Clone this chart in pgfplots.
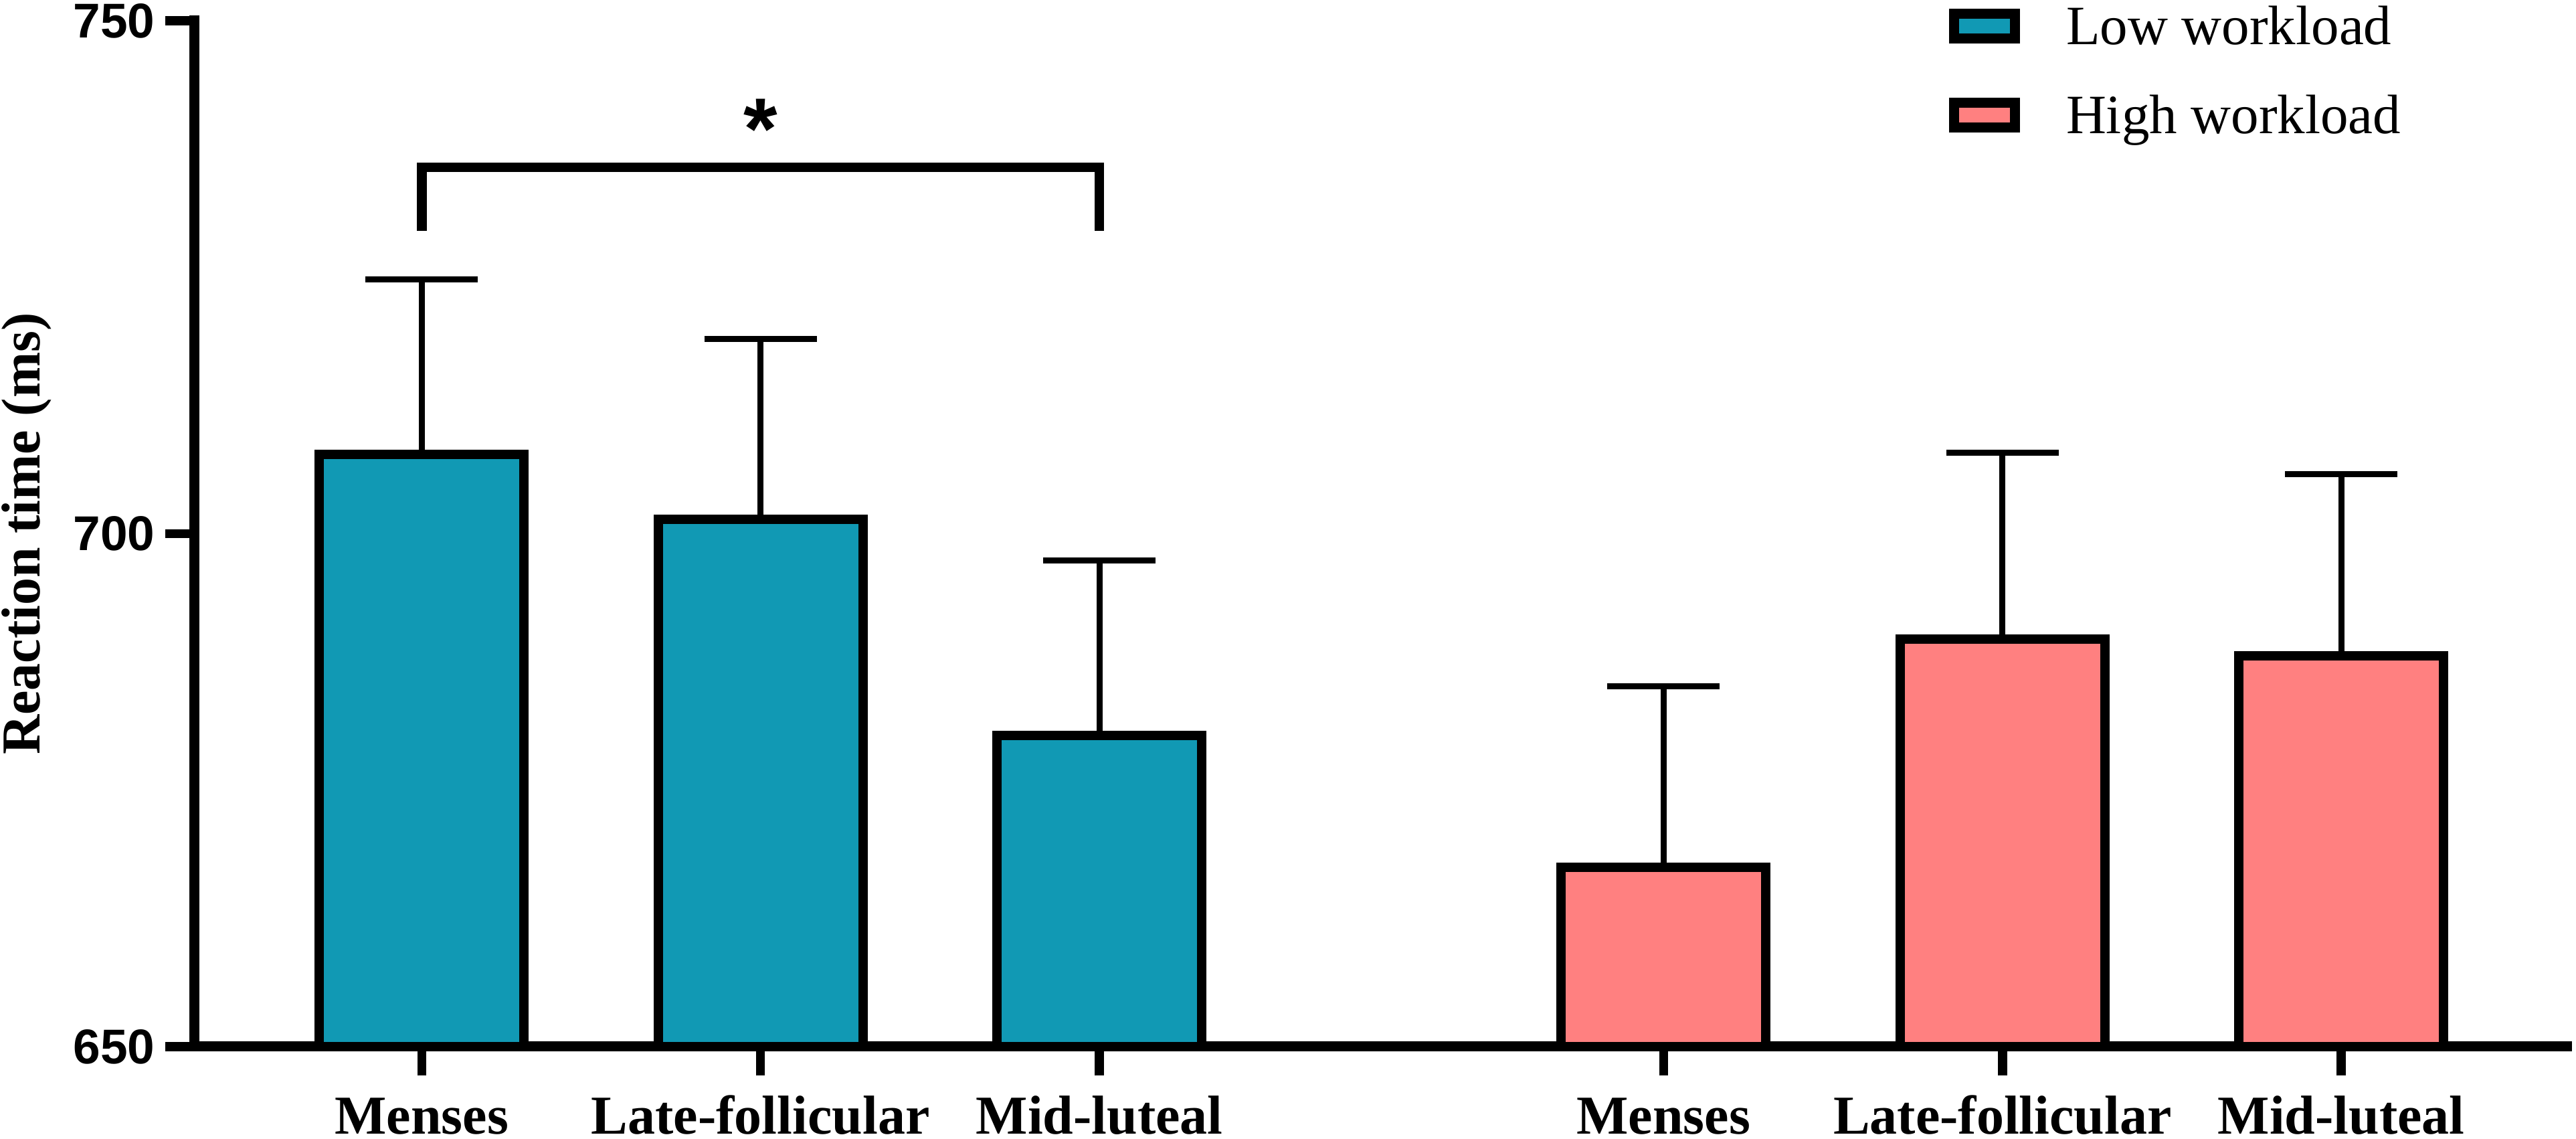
\documentclass[border=0pt]{standalone}
\usepackage{fontspec}
\setmainfont{Liberation Serif}
\setsansfont{Liberation Sans}
\usepackage{pgfplots}
\pgfplotsset{compat=1.18}
\definecolor{lowc}{RGB}{17,153,180}
\definecolor{highc}{RGB}{255,128,128}
\begin{document}
\begin{tikzpicture}
\begin{axis}[
  at={(0,0)}, anchor=south west,
  scale only axis, width=354.5pt, height=153.3pt,
  xmin=-0.67, xmax=6.33, ymin=650, ymax=750,
  ybar,
  axis x line=bottom, axis y line=left,
  axis line style={-, line width=1.5pt, line cap=rect},
  every outer x axis line/.append style={-},
  every outer y axis line/.append style={-},
  tick align=outside, major tick length=4.35pt,
  major tick style={line width=1.35pt, black},
  xtick={0,1,2,3.665,4.665,5.665},
  xticklabels={Menses,Late-follicular,Mid-luteal,Menses,Late-follicular,Mid-luteal},
  xticklabel style={anchor=north, inner sep=0pt, text height=6pt, text depth=0pt,
    font=\fontsize{8.2}{9.8}\selectfont\bfseries},
  xticklabel shift=2.5pt,
  ytick={650,700,750},
  yticklabels={650,700,750},
  yticklabel style={anchor=east, inner sep=0pt, font=\fontsize{7.3}{8.8}\selectfont\sffamily\bfseries},
  yticklabel shift=1.4pt,
  minor tick num=0,
  ylabel={Reaction time (ms)},
  every axis y label/.style={at={(axis description cs:-0.0652,0.5)}, anchor=base, rotate=90,
    font=\fontsize{8.2}{9.8}\selectfont\bfseries},
  legend image code/.code={\draw[#1, line width=1.5pt] (0pt,0.95pt) rectangle (9.1pt,4.65pt);},
  legend style={draw=none, fill=none, inner sep=0pt, outer sep=0pt,
    row sep=5.3pt, column sep=6.95pt,
    at={(axis description cs:0.7395,1.01566)}, anchor=north west,
    cells={anchor=base west},
    nodes={inner sep=0pt, text height=6pt, text depth=2pt, font=\fontsize{8.3}{10}\selectfont}},
]
\addplot[fill=lowc, draw=black, line width=1.4pt, bar width=30.6pt, bar shift=0pt,
  error bars/.cd, y dir=plus, y explicit,
  error bar style={line width=0.9pt, black},
  error mark options={rotate=90, mark size=8.4pt, line width=0.9pt, black}]
  coordinates {(0,707.7) +- (0,17.1) (1,701.4) +- (0,17.6) (2,680.3) +- (0,17.1)};
\addlegendentry{Low workload}
\addplot[fill=highc, draw=black, line width=1.4pt, bar width=30.6pt, bar shift=0pt,
  error bars/.cd, y dir=plus, y explicit,
  error bar style={line width=0.9pt, black},
  error mark options={rotate=90, mark size=8.4pt, line width=0.9pt, black}]
  coordinates {(3.665,667.5) +- (0,17.6) (4.665,689.7) +- (0,18.2) (5.665,688.1) +- (0,17.7)};
\addlegendentry{High workload}
\draw[line width=1.45pt, line cap=butt] (axis cs:0,729.5) -- (axis cs:0,735.7) -- (axis cs:2,735.7) -- (axis cs:2,729.5);
\node[inner sep=0pt, anchor=base, font=\fontsize{13}{15}\selectfont\sffamily\bfseries] at (axis cs:1,736.5) {*};
\end{axis}
\pgfresetboundingbox
\path[use as bounding box] (-29.1pt,-13.8pt) rectangle (355.9pt,156.4pt);
\end{tikzpicture}
\end{document}
